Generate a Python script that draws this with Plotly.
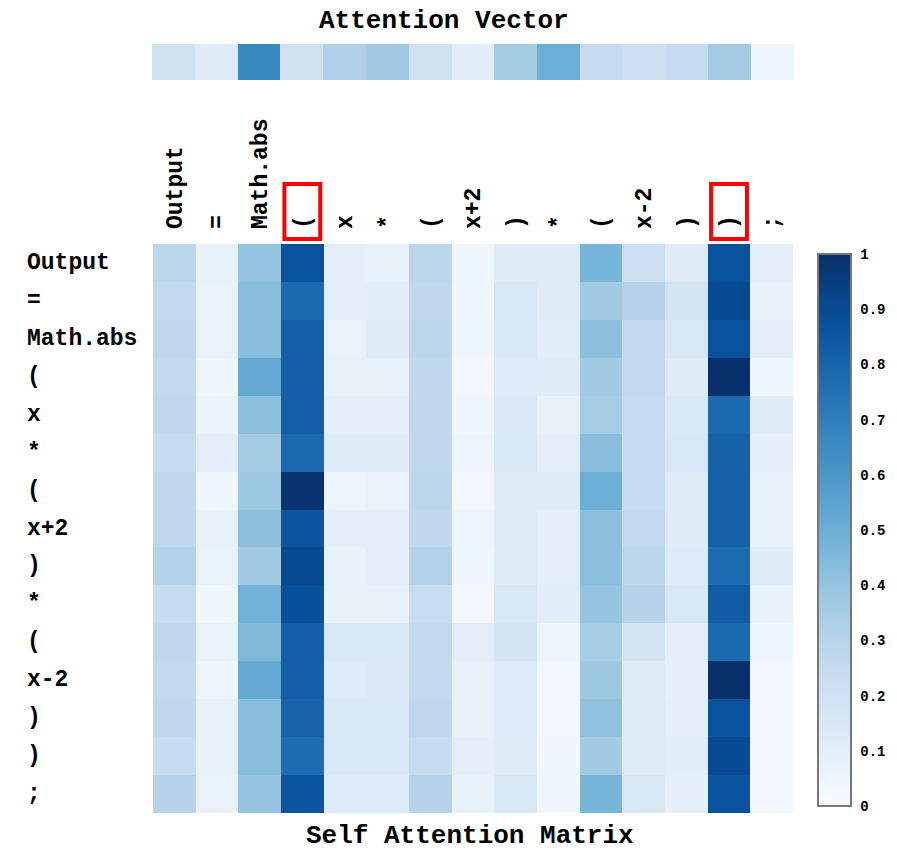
import plotly.graph_objects as go

tokens = ["Output", "=", "Math.abs", "(", "x", "*", "(", "x+2", ")", "*", "(", "x-2", ")", ")", ";"]

attention_vector = [0.20, 0.12, 0.66, 0.20, 0.32, 0.37, 0.20, 0.11, 0.36, 0.50, 0.25, 0.22, 0.25, 0.36, 0.04]

# rows = query tokens (top to bottom), columns = key tokens (left to right)
self_attention = [
    [0.28, 0.08, 0.40, 0.87, 0.10, 0.08, 0.28, 0.04, 0.12, 0.12, 0.47, 0.22, 0.12, 0.87, 0.10],
    [0.26, 0.07, 0.43, 0.78, 0.10, 0.11, 0.27, 0.04, 0.16, 0.12, 0.37, 0.30, 0.18, 0.90, 0.08],
    [0.27, 0.07, 0.43, 0.82, 0.07, 0.12, 0.28, 0.04, 0.15, 0.11, 0.42, 0.26, 0.16, 0.87, 0.10],
    [0.26, 0.04, 0.52, 0.82, 0.08, 0.08, 0.27, 0.03, 0.13, 0.12, 0.37, 0.26, 0.12, 1.00, 0.04],
    [0.27, 0.06, 0.42, 0.82, 0.10, 0.10, 0.27, 0.04, 0.14, 0.08, 0.35, 0.25, 0.15, 0.78, 0.12],
    [0.25, 0.10, 0.36, 0.78, 0.12, 0.12, 0.27, 0.05, 0.15, 0.10, 0.43, 0.25, 0.16, 0.81, 0.09],
    [0.27, 0.04, 0.38, 0.99, 0.05, 0.07, 0.28, 0.03, 0.12, 0.12, 0.50, 0.25, 0.12, 0.81, 0.08],
    [0.27, 0.08, 0.42, 0.86, 0.10, 0.09, 0.27, 0.05, 0.12, 0.10, 0.42, 0.26, 0.12, 0.81, 0.08],
    [0.31, 0.07, 0.37, 0.90, 0.08, 0.10, 0.31, 0.04, 0.12, 0.10, 0.42, 0.28, 0.13, 0.77, 0.12],
    [0.25, 0.04, 0.48, 0.88, 0.08, 0.08, 0.24, 0.03, 0.15, 0.11, 0.40, 0.30, 0.16, 0.83, 0.08],
    [0.27, 0.07, 0.45, 0.82, 0.15, 0.15, 0.26, 0.10, 0.17, 0.05, 0.35, 0.18, 0.10, 0.78, 0.04],
    [0.26, 0.04, 0.52, 0.82, 0.13, 0.14, 0.26, 0.08, 0.13, 0.03, 0.38, 0.12, 0.09, 1.00, 0.03],
    [0.27, 0.08, 0.43, 0.80, 0.15, 0.15, 0.27, 0.08, 0.13, 0.03, 0.41, 0.12, 0.10, 0.87, 0.03],
    [0.25, 0.08, 0.43, 0.77, 0.16, 0.16, 0.25, 0.10, 0.12, 0.04, 0.37, 0.12, 0.11, 0.90, 0.03],
    [0.30, 0.07, 0.40, 0.86, 0.13, 0.13, 0.30, 0.08, 0.15, 0.04, 0.47, 0.15, 0.09, 0.87, 0.03],
]

highlighted_columns = [3, 13]
colorbar_ticks = [0, 0.1, 0.2, 0.3, 0.4, 0.5, 0.6, 0.7, 0.8, 0.9, 1]

FONT = "Liberation Mono"
W, H = 897, 853


def px_x(v):
    return v / W


def px_y(v):
    return 1 - v / H


idx = list(range(len(tokens)))

fig = go.Figure()

fig.add_trace(go.Heatmap(
    z=self_attention, x=idx, y=idx,
    colorscale="Blues", zmin=0, zmax=1,
    xaxis="x", yaxis="y",
    colorbar=dict(
        x=px_x(818), xanchor="left", xpad=0, ypad=0,
        y=px_y(530), yanchor="middle",
        len=(806 - 254) / H, lenmode="fraction",
        thickness=33, thicknessmode="pixels",
        outlinecolor="#777777", outlinewidth=2,
        tickvals=colorbar_ticks,
        ticktext=[str(t) for t in colorbar_ticks],
        ticks="outside", ticklen=6, tickcolor="white",
        tickfont=dict(family=FONT, size=14, color="black", weight="bold"),
    ),
    hoverinfo="z",
))

fig.add_trace(go.Heatmap(
    z=[attention_vector], x=idx, y=[0],
    colorscale="Blues", zmin=0, zmax=1, showscale=False,
    xaxis="x2", yaxis="y2",
    hoverinfo="z",
))

xdom = [px_x(153), px_x(793)]
fig.update_layout(
    width=W, height=H,
    margin=dict(l=0, r=0, t=0, b=0),
    paper_bgcolor="white", plot_bgcolor="white",
    xaxis=dict(
        domain=xdom, anchor="y", side="top",
        tickvals=idx, ticktext=tokens, tickangle=-90,
        tickfont=dict(family=FONT, size=23, color="black", weight="bold"),
        ticklabelstandoff=14,
        showgrid=False, zeroline=False, showline=False, ticks="",
        range=[-0.5, len(tokens) - 0.5],
    ),
    yaxis=dict(
        domain=[px_y(813), px_y(244)], anchor="x",
        range=[len(tokens) - 0.5, -0.5],
        showticklabels=False, showgrid=False, zeroline=False, showline=False,
    ),
    xaxis2=dict(
        domain=[px_x(152), px_x(794)], anchor="y2",
        showticklabels=False, showgrid=False, zeroline=False,
        range=[-0.5, len(tokens) - 0.5],
    ),
    yaxis2=dict(
        domain=[px_y(80), px_y(44)], anchor="x2",
        showticklabels=False, showgrid=False, zeroline=False,
        range=[-0.5, 0.5],
    ),
)

# row labels, left aligned
for i, t in enumerate(tokens):
    fig.add_annotation(
        x=px_x(25), xref="paper", xanchor="left",
        y=i, yref="y", yanchor="middle",
        text=t, showarrow=False,
        font=dict(family=FONT, size=23, color="black", weight="bold"),
    )

# titles
fig.add_annotation(
    x=px_x(444), y=px_y(21), xref="paper", yref="paper",
    text="Attention Vector", showarrow=False, xanchor="center", yanchor="middle",
    font=dict(family=FONT, size=26, color="black", weight="bold"), borderpad=0,
)
fig.add_annotation(
    x=px_x(470), y=px_y(836), xref="paper", yref="paper",
    text="Self Attention Matrix", showarrow=False, xanchor="center", yanchor="middle",
    font=dict(family=FONT, size=26, color="black", weight="bold"), borderpad=0,
)

# red highlight boxes around selected column labels
for c in highlighted_columns:
    fig.add_shape(
        type="rect", xref="x", yref="paper",
        x0=c - 0.42, x1=c + 0.42,
        y0=px_y(239), y1=px_y(184),
        line=dict(color="red", width=4), fillcolor="rgba(0,0,0,0)",
    )

fig.write_html(
    "out.html",
    config={"displayModeBar": False},
    post_script="document.body.style.margin='0';document.body.style.overflow='hidden';",
)
